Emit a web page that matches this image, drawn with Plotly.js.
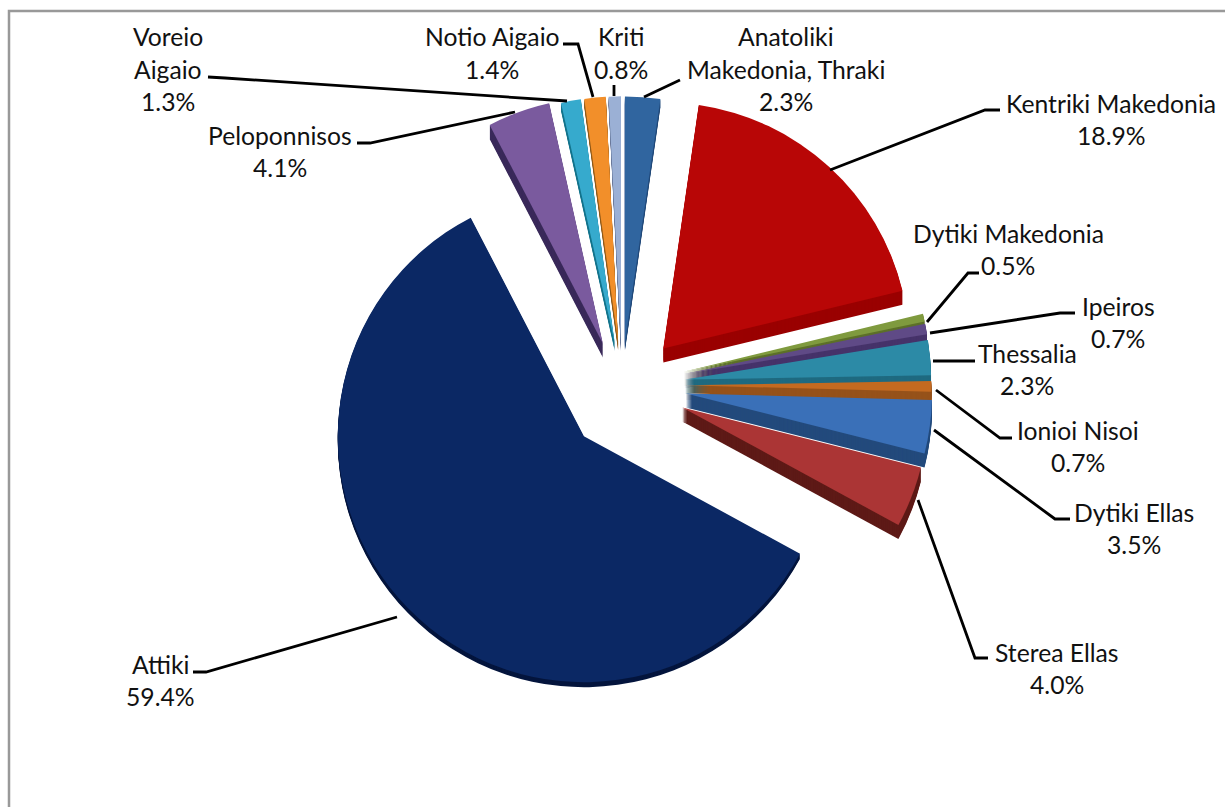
<!DOCTYPE html>
<html><head><meta charset="utf-8">
<script src="https://cdn.plot.ly/plotly-3.0.1.min.js"></script>
<style>html,body{margin:0;padding:0;background:#fff}#c{width:1225px;height:807px}</style>
</head><body><div id="c"></div>
<script>
const W = 1225, H = 807;
const regions = ["Anatoliki Makedonia, Thraki","Kentriki Makedonia","Dytiki Makedonia","Ipeiros","Thessalia","Ionioi Nisoi","Dytiki Ellas","Sterea Ellas","Attiki","Peloponnisos","Voreio Aigaio","Notio Aigaio","Kriti"];
const shares = [2.3,18.9,0.5,0.7,2.3,0.7,3.5,4.0,59.4,4.1,1.3,1.4,0.8];
const pulls = [0.165,0.195,0.245,0.245,0.245,0.245,0.25,0.25,0.268,0.18,0.165,0.165,0.165];
const topColors = ["#30659f","#b80606","#7f9a3e","#5f4a86","#2c8aa6","#c46a20","#3a70b8","#ab3535","#0b2864","#7a5a9e","#36aacd","#f28f2a","#9bb0d5"];
const sideColors = ["#204a7a","#9a0000","#5d7029","#46336a","#1f6a80","#96521a","#234a7c","#5e1a17","#04153d","#3a2a5a","#14748c","#8f5a1a","#5f7090"];
const labelLines = [["Anatoliki","Makedonia, Thraki","2.3%"],["Kentriki Makedonia","18.9%"],["Dytiki Makedonia","0.5%"],["Ipeiros","0.7%"],["Thessalia","2.3%"],["Ionioi Nisoi","0.7%"],["Dytiki Ellas","3.5%"],["Sterea Ellas","4.0%"],["Attiki","59.4%"],["Peloponnisos","4.1%"],["Voreio","Aigaio","1.3%"],["Notio Aigaio","1.4%"],["Kriti","0.8%"]];
const labelX = [786,1111,1008,1118,1027,1078,1134,1057,160,280,168,492,621];
const labelY = [37,103,233,306,353,430,512,652,664,135,37,37,37];
const leaders = [
 [[680,80],[644,97]],
 [[1000,110],[985,110],[830,170]],
 [[979,273],[968,273],[927,322]],
 [[1075,313],[1060,313],[930,333]],
 [[975,361],[933,361]],
 [[1012,438],[1000,438],[936,390]],
 [[1070,519],[1055,519],[934,430]],
 [[988,658],[975,658],[918,500]],
 [[193,672],[206,672],[397,617]],
 [[357,143],[370,143],[515,112]],
 [[208,77],[225,78],[567,101]],
 [[563,44],[578,44],[593,97]],
 [[614,85],[614,96]]
];
const LINE_GAP = 32.5, CX = 622, CY = 385, HALF = 312;
const groups = [
  {slices:[0,10,11,12], dx:0, dy:-2, depth:8},
  {slices:[9], dx:-4, dy:0, depth:14},
  {slices:[1], dx:9, dy:-1, depth:14},
  {slices:[2,3,4,5,6,7], dx:3, dy:0, depth:14},
  {slices:[8], dx:9, dy:5, depth:5}
];
const px = x => x / W, py = y => 1 - y / H;
const CLEAR = "rgba(0,0,0,0)";

function pieTrace(dx, dy, colors) {
  return {type:"pie", labels:regions, values:shares, sort:false, direction:"clockwise", rotation:0,
    pull:pulls, textinfo:"none", hoverinfo:"skip", showlegend:false,
    marker:{colors:colors, line:{width:0}},
    domain:{x:[px(CX+dx-HALF),px(CX+dx+HALF)], y:[py(CY+HALF+dy),py(CY-HALF+dy)]}};
}
const mask = (cs,g) => cs.map((c,i)=> g.slices.includes(i) ? c : CLEAR);
const data = [];
groups.forEach(g=>{ for (let d=g.depth; d>=1; d--) data.push(pieTrace(g.dx,g.dy+d,mask(sideColors,g))); });
groups.forEach(g=> data.push(pieTrace(g.dx,g.dy,mask(topColors,g))));

const annotations = [];
labelLines.forEach((lines,i)=>lines.forEach((t,j)=>annotations.push({
  text:t, xref:"paper", yref:"paper", x:px(labelX[i]), y:py(labelY[i]+j*LINE_GAP),
  xanchor:"center", yanchor:"middle", showarrow:false,
  font:{family:"Lato, sans-serif", size:24.7, color:"#111"}
})));
const shapes = [{type:"path", xref:"paper", yref:"paper",
  path:`M ${px(9)} ${py(807)} L ${px(9)} ${py(11)} L ${px(1225)} ${py(11)}`,
  line:{color:"#999", width:2.5}}];
leaders.forEach(pts=>shapes.push({type:"path", xref:"paper", yref:"paper",
  path:pts.map((p,k)=>(k?"L ":"M ")+px(p[0])+" "+py(p[1])).join(" "),
  line:{color:"#000", width:2.8}}));

Plotly.newPlot("c", data, {width:W, height:H, margin:{l:0,r:0,t:0,b:0},
  paper_bgcolor:"#fff", annotations, shapes}, {displayModeBar:false, staticPlot:true});
</script></body></html>
